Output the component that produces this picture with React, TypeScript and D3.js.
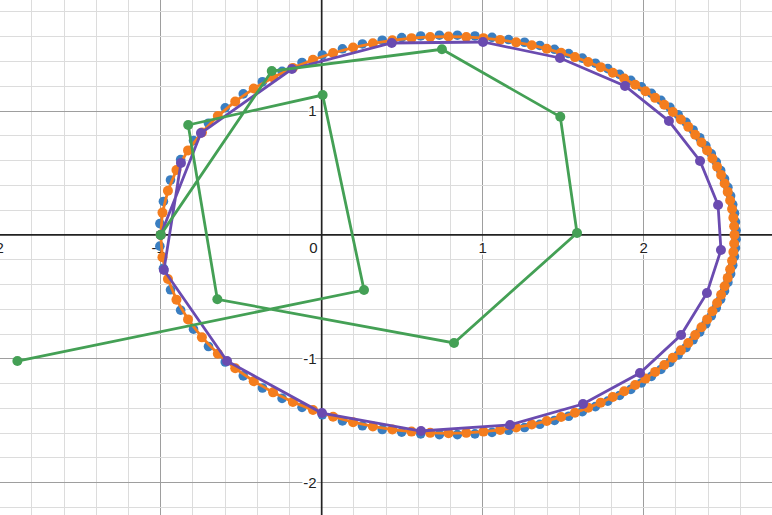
import { useRef, useEffect } from "react";
import { select, scaleLinear, line, range } from "d3";

const width = 772;
const height = 515;

// fine-step orbit (orange) and half-step samples (blue)
const orangeX = [
  -1.0, -0.989, -0.955, -0.902, -0.83, -0.744, -0.645, -0.537, -0.422, -0.302,
  -0.179, -0.054, 0.071, 0.195, 0.318, 0.439, 0.558, 0.674, 0.788, 0.898,
  1.005, 1.108, 1.208, 1.305, 1.398, 1.487, 1.573, 1.655, 1.733, 1.808,
  1.879, 1.947, 2.011, 2.071, 2.128, 2.181, 2.231, 2.277, 2.32, 2.359,
  2.394, 2.427, 2.456, 2.481, 2.503, 2.522, 2.537, 2.549, 2.557, 2.562,
  2.564, 2.562, 2.557, 2.549, 2.537, 2.522, 2.503, 2.481, 2.456, 2.427,
  2.394, 2.359, 2.32, 2.277, 2.231, 2.181, 2.128, 2.071, 2.011, 1.947,
  1.879, 1.808, 1.733, 1.655, 1.573, 1.487, 1.398, 1.305, 1.208, 1.108,
  1.005, 0.898, 0.788, 0.674, 0.558, 0.439, 0.318, 0.195, 0.071, -0.054,
  -0.179, -0.302, -0.422, -0.537, -0.645, -0.744, -0.83, -0.902, -0.955, -0.989,
];
const orangeY = [
  0, 0.18, 0.356, 0.524, 0.682, 0.827, 0.959, 1.077, 1.181, 1.271,
  1.348, 1.414, 1.468, 1.512, 1.546, 1.571, 1.588, 1.598, 1.601, 1.598,
  1.588, 1.574, 1.554, 1.531, 1.502, 1.47, 1.435, 1.396, 1.354, 1.309,
  1.262, 1.212, 1.16, 1.106, 1.05, 0.992, 0.932, 0.872, 0.809, 0.746,
  0.682, 0.616, 0.55, 0.483, 0.415, 0.347, 0.278, 0.209, 0.139, 0.07,
  0, -0.07, -0.139, -0.209, -0.278, -0.347, -0.415, -0.483, -0.55, -0.616,
  -0.682, -0.746, -0.809, -0.872, -0.932, -0.992, -1.05, -1.106, -1.16, -1.212,
  -1.262, -1.309, -1.354, -1.396, -1.435, -1.47, -1.502, -1.531, -1.554, -1.574,
  -1.588, -1.598, -1.601, -1.598, -1.588, -1.571, -1.546, -1.512, -1.468, -1.414,
  -1.348, -1.271, -1.181, -1.077, -0.959, -0.827, -0.682, -0.524, -0.356, -0.18,
];
const blueX = [
  -1.005, -0.983, -0.939, -0.876, -0.796, -0.703, -0.599, -0.487, -0.368, -0.246,
  -0.122, 0.004, 0.129, 0.253, 0.376, 0.497, 0.615, 0.731, 0.843, 0.952,
  1.058, 1.161, 1.26, 1.355, 1.446, 1.534, 1.619, 1.7, 1.777, 1.85,
  1.92, 1.986, 2.048, 2.107, 2.163, 2.214, 2.263, 2.307, 2.348, 2.386,
  2.42, 2.451, 2.478, 2.502, 2.523, 2.54, 2.553, 2.564, 2.57, 2.574,
  2.574, 2.57, 2.564, 2.553, 2.54, 2.523, 2.502, 2.478, 2.451, 2.42,
  2.386, 2.348, 2.307, 2.263, 2.214, 2.163, 2.107, 2.048, 1.986, 1.92,
  1.85, 1.777, 1.7, 1.619, 1.534, 1.446, 1.355, 1.26, 1.161, 1.058,
  0.952, 0.843, 0.731, 0.615, 0.497, 0.376, 0.253, 0.129, 0.004, -0.122,
  -0.246, -0.368, -0.487, -0.599, -0.703, -0.796, -0.876, -0.939, -0.983, -1.005,
];
const blueY = [
  0.091, 0.27, 0.443, 0.608, 0.761, 0.901, 1.026, 1.138, 1.236, 1.32,
  1.392, 1.452, 1.502, 1.541, 1.571, 1.592, 1.606, 1.612, 1.612, 1.606,
  1.594, 1.577, 1.555, 1.529, 1.498, 1.464, 1.427, 1.386, 1.342, 1.296,
  1.247, 1.195, 1.142, 1.086, 1.029, 0.97, 0.909, 0.847, 0.784, 0.719,
  0.654, 0.588, 0.52, 0.452, 0.384, 0.315, 0.245, 0.175, 0.105, 0.035,
  -0.035, -0.105, -0.175, -0.245, -0.315, -0.384, -0.452, -0.52, -0.588, -0.654,
  -0.719, -0.784, -0.847, -0.909, -0.97, -1.029, -1.086, -1.142, -1.195, -1.247,
  -1.296, -1.342, -1.386, -1.427, -1.464, -1.498, -1.529, -1.555, -1.577, -1.594,
  -1.606, -1.612, -1.612, -1.606, -1.592, -1.571, -1.541, -1.502, -1.452, -1.392,
  -1.32, -1.236, -1.138, -1.026, -0.901, -0.761, -0.608, -0.443, -0.27, -0.091,
];

// coarse-step orbit (purple)
const purpleX = [
  -1.0, -0.75, -0.185, 0.435, 1.002, 1.48, 1.884, 2.157, 2.35, 2.462, 2.48,
  2.393, 2.232, 1.977, 1.623, 1.17, 0.617, 0.002, -0.588, -0.98, -0.874,
];
const purpleY = [
  0, 0.822, 1.339, 1.549, 1.557, 1.428, 1.202, 0.919, 0.597, 0.241, -0.122,
  -0.469, -0.808, -1.115, -1.365, -1.534, -1.583, -1.438, -1.018, -0.283, 0.58,
];

// very coarse steps (green)
const greenX = [-1.0, -0.31, 0.747, 1.482, 1.586, 0.822, -0.648, -0.829, 0.006, 0.263, -1.89];
const greenY = [0, 1.323, 1.498, 0.953, 0.015, -0.872, -0.52, 0.887, 1.129, -0.445, -1.018];

const xTicks = [-2, -1, 0, 1, 2];
const yTicks = [1, -1, -2];

const toPoints = (xs: number[], ys: number[]) => xs.map((x, i) => [x, ys[i]] as [number, number]);

const App = () => {
  const svgRef = useRef<SVGSVGElement>(null);

  useEffect(() => {
    const x = scaleLinear().domain([-1.998, 2.797]).range([0, width]);
    const y = scaleLinear().domain([1.896, -2.261]).range([0, height]);

    const svg = select(svgRef.current);
    svg.selectAll("*").remove();

    svg.append("rect").attr("width", width).attr("height", height).attr("fill", "#fff");

    // grid: minor every 0.2, major on integers
    const isMajor = (d: number) => Math.abs(d - Math.round(d)) < 1e-6;
    const grid = svg.append("g").attr("shape-rendering", "crispEdges");
    const minorX = range(-10, 15).map((i) => i * 0.2);
    const minorY = range(-11, 10).map((i) => i * 0.2);
    grid
      .selectAll("line.mx")
      .data(minorX)
      .join("line")
      .attr("x1", (d) => x(d))
      .attr("x2", (d) => x(d))
      .attr("y1", 0)
      .attr("y2", height)
      .attr("stroke", (d) => (isMajor(d) ? "#9e9e9e" : "#dcdcdc"))
      .attr("stroke-width", 1);
    grid
      .selectAll("line.my")
      .data(minorY)
      .join("line")
      .attr("x1", 0)
      .attr("x2", width)
      .attr("y1", (d) => y(d))
      .attr("y2", (d) => y(d))
      .attr("stroke", (d) => (isMajor(d) ? "#9e9e9e" : "#dcdcdc"))
      .attr("stroke-width", 1);

    // axes
    svg.append("line").attr("x1", 0).attr("x2", width).attr("y1", y(0)).attr("y2", y(0))
      .attr("stroke", "#222").attr("stroke-width", 1.7);
    svg.append("line").attr("x1", x(0)).attr("x2", x(0)).attr("y1", 0).attr("y2", height)
      .attr("stroke", "#222").attr("stroke-width", 1.7);

    // tick labels
    const labels = svg.append("g")
      .attr("font-family", "'Liberation Sans', Arial, sans-serif")
      .attr("font-size", 15)
      .attr("fill", "#222")
      .attr("stroke", "#fff")
      .attr("stroke-width", 3)
      .attr("paint-order", "stroke")
      .attr("text-anchor", "end");
    labels
      .selectAll("text.xt")
      .data(xTicks)
      .join("text")
      .attr("x", (d) => (d === 0 ? x(0) - 4 : x(d) + 4.2))
      .attr("y", y(0) + 18.5)
      .text((d) => (d < 0 ? `-${-d}` : `${d}`));
    labels
      .selectAll("text.yt")
      .data(yTicks)
      .join("text")
      .attr("x", x(0) - 5)
      .attr("y", (d) => y(d) + 5.3)
      .text((d) => (d < 0 ? `-${-d}` : `${d}`));

    const path = line<[number, number]>()
      .x((d) => x(d[0]))
      .y((d) => y(d[1]));

    // blue dots
    svg.append("g")
      .selectAll("circle")
      .data(toPoints(blueX, blueY))
      .join("circle")
      .attr("cx", (d) => x(d[0]))
      .attr("cy", (d) => y(d[1]))
      .attr("r", 4.8)
      .attr("fill", "#3a7ec1");

    // orange line + dots
    const orange = toPoints(orangeX, orangeY);
    svg.append("path")
      .attr("d", path([...orange, orange[0]]))
      .attr("fill", "none")
      .attr("stroke", "#f47d1e")
      .attr("stroke-width", 2.8);
    svg.append("g")
      .selectAll("circle")
      .data(orange)
      .join("circle")
      .attr("cx", (d) => x(d[0]))
      .attr("cy", (d) => y(d[1]))
      .attr("r", 5)
      .attr("fill", "#f47d1e");

    // purple
    const purple = toPoints(purpleX, purpleY);
    svg.append("path")
      .attr("d", path(purple))
      .attr("fill", "none")
      .attr("stroke", "#6a4bb0")
      .attr("stroke-width", 2.8);
    svg.append("g")
      .selectAll("circle")
      .data(purple)
      .join("circle")
      .attr("cx", (d) => x(d[0]))
      .attr("cy", (d) => y(d[1]))
      .attr("r", 5)
      .attr("fill", "#6a4bb0");

    // green
    const green = toPoints(greenX, greenY);
    svg.append("path")
      .attr("d", path(green))
      .attr("fill", "none")
      .attr("stroke", "#44a055")
      .attr("stroke-width", 2.8);
    svg.append("g")
      .selectAll("circle")
      .data(green)
      .join("circle")
      .attr("cx", (d) => x(d[0]))
      .attr("cy", (d) => y(d[1]))
      .attr("r", 5)
      .attr("fill", "#44a055");
  }, []);

  return (
    <div style={{ position: "absolute", left: 0, top: 0 }}>
      <svg ref={svgRef} width={width} height={height} style={{ display: "block" }}></svg>
    </div>
  );
};

export default App;
